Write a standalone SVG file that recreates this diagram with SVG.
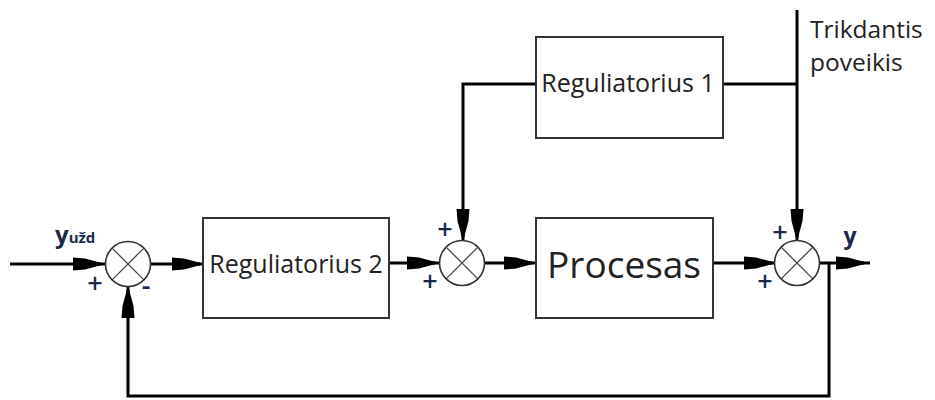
<svg xmlns="http://www.w3.org/2000/svg" width="935" height="400" viewBox="0 0 935 400">
<style>
.box{fill:#fff;stroke:#333;stroke-width:2}
.lbl{font-family:"Open Sans","Noto Sans",sans-serif;fill:#222;text-anchor:middle}
.sum{fill:#fff;stroke:#333;stroke-width:1.6}
.x{stroke:#444;stroke-width:1.3}
.wire{fill:none;stroke:#000;stroke-width:3}
.sign{font-family:"Open Sans","Noto Sans",sans-serif;font-weight:bold;fill:#1c2a4a;text-anchor:middle}
.pm{font-family:"Open Sans","Noto Sans",sans-serif;font-weight:600;fill:#1c2a4a;text-anchor:middle;font-size:27px}
</style>
<defs>
<path id="ah" d="M-28,-6.5 L-16,-5.5 L-3,-2 L0,-1.5 L0,1.5 L-3,2 L-16,5.5 L-28,6.5 Z" fill="#000"/>
<g id="sj">
<circle class="sum" r="22.5"/>
<line class="x" x1="-15.9" y1="-15.9" x2="15.9" y2="15.9"/>
<line class="x" x1="-15.9" y1="15.9" x2="15.9" y2="-15.9"/>
</g>
</defs>
<g id="connectors">
<path class="wire" d="M10,264 H105"/>
<path class="wire" d="M150,264 H203"/>
<path class="wire" d="M389,263 H439"/>
<path class="wire" d="M485,263 H536"/>
<path class="wire" d="M713,263 H775"/>
<path class="wire" d="M819,263 H870"/>
<path class="wire" d="M536,84 H463 V241"/>
<path class="wire" d="M723,84 H797"/>
<path class="wire" d="M797,10 V241"/>
<path class="wire" d="M829,263 V396 H128 V287"/>
<use href="#ah" transform="translate(101,264)"/>
<use href="#ah" transform="translate(200,264)"/>
<use href="#ah" transform="translate(435,263)"/>
<use href="#ah" transform="translate(532,263)"/>
<use href="#ah" transform="translate(772,263)"/>
<use href="#ah" transform="translate(864,263)"/>
<use href="#ah" transform="translate(463,237) rotate(90)"/>
<use href="#ah" transform="translate(797,237) rotate(90)"/>
<use href="#ah" transform="translate(128,290) rotate(-90)"/>
</g>
<g id="sum1">
<use href="#sj" x="128" y="264"/>
<text class="pm" x="95" y="293">+</text>
<text class="pm" x="146" y="295">-</text>
</g>
<g id="sum2">
<use href="#sj" x="462" y="263"/>
<text class="pm" x="445" y="239">+</text>
<text class="pm" x="430" y="291">+</text>
</g>
<g id="sum3">
<use href="#sj" x="797" y="263"/>
<text class="pm" x="780" y="242">+</text>
<text class="pm" x="765" y="291">+</text>
</g>
<g id="reg2">
<rect class="box" x="203" y="218" width="186" height="100"/>
<text class="lbl" x="296" y="273" font-size="25">Reguliatorius 2</text>
</g>
<g id="procesas">
<rect class="box" x="536" y="218" width="177" height="100"/>
<text class="lbl" x="624" y="278" font-size="37">Procesas</text>
</g>
<g id="reg1">
<rect class="box" x="536" y="37" width="187" height="101"/>
<text class="lbl" x="628" y="92" font-size="25">Reguliatorius 1</text>
</g>
<g id="disturbance">
<text class="lbl" x="810" y="38" font-size="24.5" style="text-anchor:start">Trikdantis</text>
<text class="lbl" x="810" y="71" font-size="24.5" style="text-anchor:start">poveikis</text>
</g>
<g id="input">
<text class="sign" x="55" y="243" font-size="24" style="text-anchor:start">y<tspan font-size="15">užd</tspan></text>
</g>
<g id="output">
<text class="sign" x="850" y="244" font-size="23">y</text>
</g>
</svg>
